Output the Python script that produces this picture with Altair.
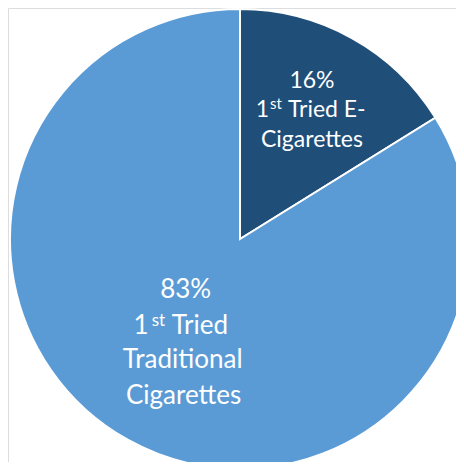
import altair as alt
import pandas as pd

# ---- data ----
categories = ["1st Tried E-Cigarettes", "1st Tried Traditional Cigarettes"]
values = [16, 83]
colors = ["#1F4E79", "#5B9BD5"]
pct_labels = ["16%", "83%"]
ordinal_num = "1"
ordinal_suffix = "st"
ecig_words = ["Tried E-", "Cigarettes"]
trad_words = ["Tried", "Traditional", "Cigarettes"]

df = pd.DataFrame({"category": categories, "value": values, "idx": list(range(len(categories)))})

# ---- layout / style ----
FONT = "Lato"
CX, CY, R = 232, 231, 230
theta_scale = alt.Scale(domain=[0, 1])

base = (
    alt.Chart(df)
    .transform_joinaggregate(total="sum(value)")
    .transform_window(cum="sum(value)", sort=[alt.SortField("idx")])
    .transform_calculate(
        start="(datum.cum - datum.value) / datum.total",
        end="datum.cum / datum.total",
        mid="(datum.cum - datum.value / 2) / datum.total",
    )
)

pie = base.mark_arc(radius=R, stroke="white", strokeWidth=2).encode(
    theta=alt.Theta("start:Q", scale=theta_scale),
    theta2="end:Q",
    color=alt.Color("category:N", scale=alt.Scale(domain=categories, range=colors), legend=None),
    order=alt.Order("idx:Q"),
    x=alt.value(CX),
    y=alt.value(CY),
)


def txt(cat, text, radius, dx, dy, size, align="center"):
    return (
        base.transform_filter(alt.datum.category == cat)
        .mark_text(radius=radius, dx=dx, dy=dy, fontSize=size, font=FONT,
                   color="white", align=align, baseline="middle")
        .encode(
            theta=alt.Theta("mid:Q", scale=theta_scale),
            x=alt.value(CX),
            y=alt.value(CY),
            text=alt.value(text),
        )
    )


c0, c1 = categories
RU, RL = 146, 118
SU, SL = 23, 26
layers = [
    pie,
    # upper (E-cigarettes) label
    txt(c0, pct_labels[0], RU, 1, -30, SU),
    txt(c0, ordinal_num, RU, -42, -1, SU, "right"),
    txt(c0, ordinal_suffix, RU, -41, -7, 15, "left"),
    txt(c0, ecig_words[0], RU, -23, -1, SU, "left"),
    txt(c0, ecig_words[1], RU, 1, 29, SU),
    # lower (traditional) label
    txt(c1, pct_labels[1], RL, 3, -52, SL),
    txt(c1, ordinal_num, RL, -34, -16, SL, "right"),
    txt(c1, ordinal_suffix, RL, -31, -21, 17, "left"),
    txt(c1, trad_words[0], RL, -11, -16, SL, "left"),
    txt(c1, trad_words[1], RL, 0, 18, SL),
    txt(c1, trad_words[2], RL, 1, 54, SL),
]

chart = (
    alt.layer(*layers)
    .properties(width=448, height=454, autosize=alt.AutoSizeParams(type="none"), padding=0)
    .configure_view(strokeWidth=0, stroke="transparent")
    .configure(background="white")
)

chart.save("out.html", embed_options={"renderer": "svg", "actions": False})
